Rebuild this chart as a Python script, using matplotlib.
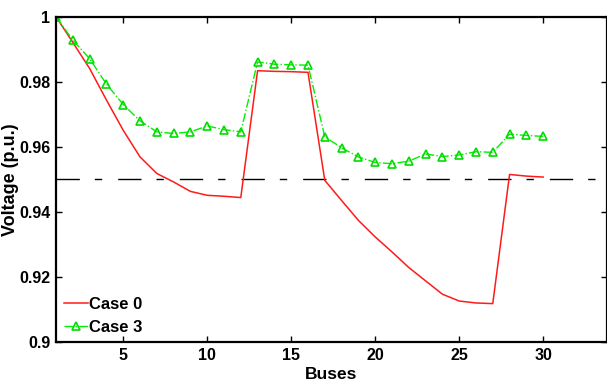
import matplotlib
matplotlib.use("Agg")
import matplotlib.pyplot as plt
from matplotlib.ticker import FixedLocator, FixedFormatter

# Bus voltage profiles (p.u.)
buses = list(range(1, 31))
case0 = [1.0, 0.9921, 0.9841, 0.9744, 0.9651, 0.9569, 0.9518, 0.9492, 0.9463, 0.9451,
         0.9448, 0.9444, 0.9834, 0.9832, 0.9831, 0.9829, 0.9497, 0.9435, 0.9374, 0.9323,
         0.9277, 0.9229, 0.9188, 0.9147, 0.9126, 0.9120, 0.9118, 0.9515, 0.9510, 0.9507]
case3 = [1.0, 0.9928, 0.9871, 0.9793, 0.9730, 0.9680, 0.9646, 0.9641, 0.9646, 0.9664,
         0.9653, 0.9646, 0.9861, 0.9854, 0.9852, 0.9851, 0.9631, 0.9597, 0.9569, 0.9552,
         0.9548, 0.9556, 0.9578, 0.9570, 0.9575, 0.9585, 0.9583, 0.9639, 0.9635, 0.9632]
v_limit = 0.95

x_ticks = [5, 10, 15, 20, 25, 30]
y_ticks = [0.9, 0.92, 0.94, 0.96, 0.98, 1.0]
y_tick_labels = ["0.9", "0.92", "0.94", "0.96", "0.98", "1"]

plt.rcParams["font.family"] = ["Liberation Sans", "DejaVu Sans"]
plt.rcParams["font.weight"] = "bold"

fig = plt.figure(figsize=(6.07, 3.81), dpi=100)
ax = fig.add_axes([56 / 607, 39 / 381, 551 / 607, 325.3 / 381])

# lower voltage limit
ax.axhline(v_limit, color="black", linewidth=1.0, dashes=(16.8, 10.8, 5.3, 11.5))

ax.plot(buses, case0, color="#ff1a1a", linewidth=1.1, label="Case 0")
ax.plot(buses, case3, color="#00ee00", linewidth=1.0, linestyle="-.",
        marker="^", markersize=6, markerfacecolor="none", markeredgecolor="#00dd00",
        markeredgewidth=1.2, label="Case 3")

ax.set_xlim(1, 33.8)
ax.set_ylim(0.9, 1.0)
ax.xaxis.set_major_locator(FixedLocator(x_ticks))
ax.yaxis.set_major_locator(FixedLocator(y_ticks))
ax.yaxis.set_major_formatter(FixedFormatter(y_tick_labels))
ax.tick_params(direction="in", length=4, width=1.0, top=True, right=True,
               labelsize=11.5, pad=4)
for s in ax.spines.values():
    s.set_linewidth(1.6)

ax.set_xlabel("Buses", fontsize=12.5, fontweight="bold", labelpad=3)
ax.set_ylabel("Voltage (p.u.)", fontsize=13, fontweight="bold")
ax.yaxis.set_label_coords(-37 / 551, 0.5)

ax.legend(loc="lower left", bbox_to_anchor=(0.0, 0.0), frameon=False,
          fontsize=12, handlelength=1.45, handletextpad=0.08, labelspacing=0.45,
          borderaxespad=0.05, borderpad=0.4)

fig.savefig("out.png", dpi=100)
